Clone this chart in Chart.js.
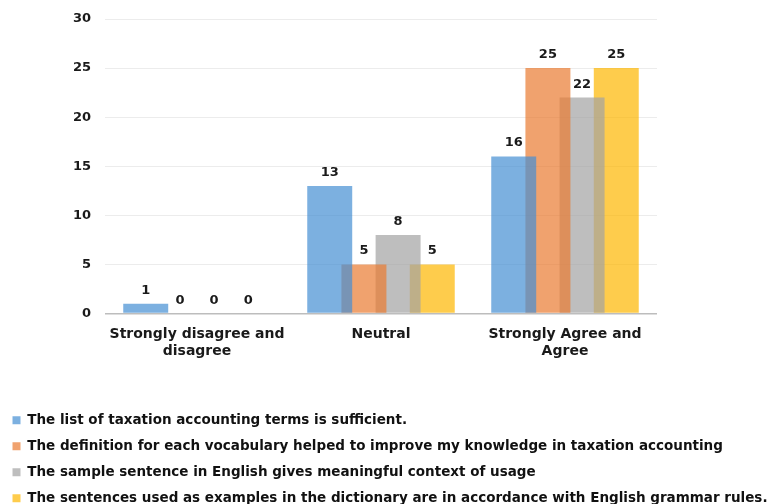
<!DOCTYPE html>
<html>
<head>
<meta charset="utf-8">
<script src="https://cdn.jsdelivr.net/npm/chart.js@4.4.1/dist/chart.umd.min.js"></script>
<style>
    html, body { margin: 0; padding: 0; background: #fff; overflow: hidden; }
    .chart-wrap { position: relative; width: 769px; height: 515px; }
</style>
</head>
<body>
<div class="chart-wrap"><canvas id="surveyChart"></canvas></div>
<script>
// Ответы по группам
const CATEGORIES = [
    ['Strongly disagree and', 'disagree'],
    'Neutral',
    ['Strongly Agree and', 'Agree'],
];

const SERIES_NAMES = [
    'The list of taxation accounting terms is sufficient.',
    'The definition for each vocabulary helped to improve my knowledge in taxation accounting',
    'The sample sentence in English gives meaningful context of usage',
    'The sentences used as examples in the dictionary are in accordance with English grammar rules.',
];

const TERMS_SUFFICIENT = [1, 13, 16];
const DEFINITION_HELPED = [0, 5, 25];
const SAMPLE_SENTENCE = [0, 8, 22];
const GRAMMAR_RULES = [0, 5, 25];

const Y_TICKS = [0, 5, 10, 15, 20, 25, 30];

const SERIES_COLORS = [
    'rgba(68,142,211,0.7)',
    'rgba(234,122,48,0.7)',
    'rgba(162,162,162,0.7)',
    'rgba(253,182,0,0.7)',
];

const LABEL_FONT = '"DejaVu Sans", "Liberation Sans", sans-serif';

// Подписи значений над столбцами
const valueLabels = {
    id: 'valueLabels',
    afterDatasetsDraw(chart) {
        const {ctx} = chart;
        ctx.save();
        ctx.font = `bold 13px ${LABEL_FONT}`;
        ctx.fillStyle = '#1a1a1a';
        ctx.textAlign = 'center';
        ctx.textBaseline = 'alphabetic';
        chart.data.datasets.forEach((ds, i) => {
            chart.getDatasetMeta(i).data.forEach((bar, j) => {
                ctx.fillText(String(ds.data[j]), bar.x, bar.y - 10);
            });
        });
        ctx.restore();
    },
};

const seriesData = [TERMS_SUFFICIENT, DEFINITION_HELPED, SAMPLE_SENTENCE, GRAMMAR_RULES];

new Chart(document.getElementById('surveyChart'), {
    type: 'bar',
    data: {
        labels: CATEGORIES,
        datasets: seriesData.map((values, i) => ({
            label: SERIES_NAMES[i],
            data: values,
            backgroundColor: SERIES_COLORS[i],
            borderWidth: 0,
            categoryPercentage: 0.743,
            barPercentage: 1.316,
        })),
    },
    options: {
        responsive: true,
        maintainAspectRatio: false,
        animation: false,
        layout: {
            padding: {top: 19, right: 0, bottom: 0, left: 0},
        },
        plugins: {
            tooltip: {enabled: false},
            legend: {
                position: 'bottom',
                align: 'start',
                labels: {
                    boxWidth: 8,
                    boxHeight: 8,
                    padding: 12.5,
                    color: '#111',
                    font: {family: LABEL_FONT, size: 13.5, weight: 'bold'},
                },
            },
        },
        scales: {
            x: {
                grid: {display: false, drawTicks: false},
                border: {display: false},
                ticks: {
                    padding: 12,
                    maxRotation: 0,
                    color: '#1a1a1a',
                    font: {family: LABEL_FONT, size: 14, weight: 'bold', lineHeight: 1.25},
                },
                afterFit: (scale) => {
                    scale.height = 87.5;
                },
            },
            y: {
                min: 0,
                max: 30,
                afterBuildTicks: (scale) => {
                    scale.ticks = Y_TICKS.map((v) => ({value: v}));
                },
                grid: {
                    drawTicks: false,
                    color: (ctx) => (ctx.tick && ctx.tick.value === 0 ? '#bdbdbd' : '#ececec'),
                    lineWidth: (ctx) => (ctx.tick && ctx.tick.value === 0 ? 1.5 : 1),
                },
                border: {display: false},
                ticks: {
                    padding: 14,
                    color: '#1a1a1a',
                    font: {family: LABEL_FONT, size: 13, weight: 'bold'},
                },
                afterFit: (scale) => {
                    scale.width = 105;
                    // отступ подписей не должен сдвигать область графика
                    scale.paddingTop = 8;
                    scale.paddingBottom = 8;
                },
            },
            // пустое место справа от графика
            spacer: {
                type: 'linear',
                position: 'right',
                grid: {display: false, drawTicks: false},
                border: {display: false},
                ticks: {display: false},
                afterFit: (scale) => {
                    scale.width = 112;
                },
            },
        },
    },
    plugins: [valueLabels],
});
</script>
</body>
</html>
